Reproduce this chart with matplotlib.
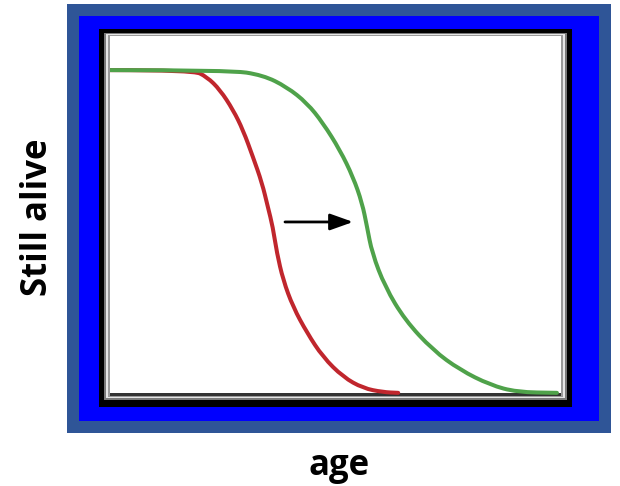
import matplotlib
matplotlib.use("Agg")
import matplotlib.pyplot as plt
from matplotlib.patches import Rectangle, PathPatch
from matplotlib.path import Path

# ---- data ----
red_age = [0, 18.4, 21.5, 24.4, 27.3, 29.5, 31.7, 33.7, 35.0, 36.1, 37.0, 38.4, 40.6, 43.7,
           47.2, 51.7, 56.1, 60.5, 63.9]
red_alive = [0.905, 0.905, 0.886, 0.850, 0.794, 0.738, 0.663, 0.591, 0.524, 0.468, 0.396, 0.320,
             0.245, 0.173, 0.106, 0.050, 0.019, 0.008, 0.006]
green_age = [0, 26.6, 33.9, 39.2, 43.7, 47.2, 51.0, 53.9, 55.9, 57.0, 58.1, 61.0, 65.4, 71.6,
             77.6, 84.3, 90.2, 99.1]
green_alive = [0.905, 0.905, 0.891, 0.858, 0.813, 0.758, 0.682, 0.607, 0.535, 0.468, 0.396, 0.301,
               0.209, 0.125, 0.070, 0.028, 0.008, 0.006]
arrow_start = (38.8, 0.482)
arrow_end = (53.9, 0.482)
xlabel = "age"
ylabel = "Still alive"

W, H = 620, 486
fig = plt.figure(figsize=(W / 100, H / 100), dpi=100)

# background frame axes in pixel coordinates
bg = fig.add_axes([0, 0, 1, 1])
bg.set_xlim(0, W)
bg.set_ylim(H, 0)
bg.axis("off")

def rect(x0, y0, x1, y1, color):
    bg.add_patch(Rectangle((x0, y0), x1 - x0, y1 - y0, facecolor=color, edgecolor="none"))

rect(67, 4, 611, 433, "#2F5597")
rect(79, 16, 599, 421, "#0000FF")
rect(99, 29, 572, 407, "#000000")
rect(104, 33, 567, 400, "#7a7a7a")
rect(106, 34, 565, 398, "#e6e6e6")
rect(108, 35, 563, 397, "#9a9a9a")
rect(110, 36, 561, 396, "#ffffff")
rect(110, 393, 561, 396, "#333333")

# main axes over the white area
left, right, top, bottom = 110, 561, 36, 395
ax = fig.add_axes([left / W, (H - bottom) / H, (right - left) / W, (bottom - top) / H])
ax.set_xlim(0, 100)
ax.set_ylim(0, 1)
ax.axis("off")
ax.patch.set_alpha(0)


def smooth_path(xs, ys):
    """Quadratic-bezier rendering through the midpoints of the read points."""
    pts = list(zip(xs, ys))
    verts = [pts[0]]
    codes = [Path.MOVETO]
    for i in range(1, len(pts) - 1):
        mid = ((pts[i][0] + pts[i + 1][0]) / 2, (pts[i][1] + pts[i + 1][1]) / 2)
        verts += [pts[i], mid]
        codes += [Path.CURVE3, Path.CURVE3]
    verts.append(pts[-1])
    codes.append(Path.LINETO)
    return Path(verts, codes)


for xs, ys, col in [(red_age, red_alive, "#C0262D"), (green_age, green_alive, "#4FA24A")]:
    ax.add_patch(PathPatch(smooth_path(xs, ys), facecolor="none", edgecolor=col, lw=2.9,
                           joinstyle="round", capstyle="round"))

ax.annotate("", xy=arrow_end, xytext=arrow_start,
            arrowprops=dict(arrowstyle="-|>,head_length=1.4,head_width=0.5", color="black", lw=2.0,
                            shrinkA=0, shrinkB=0))

fig.text(339 / W, 1 - 466 / H, xlabel, ha="center", va="center", fontsize=25,
         fontweight="bold", family="Open Sans")
fig.text(38 / W, 1 - 217 / H, ylabel, ha="center", va="center", fontsize=25,
         fontweight="bold", family="Open Sans", rotation=90)

fig.savefig("out.png", dpi=100)
